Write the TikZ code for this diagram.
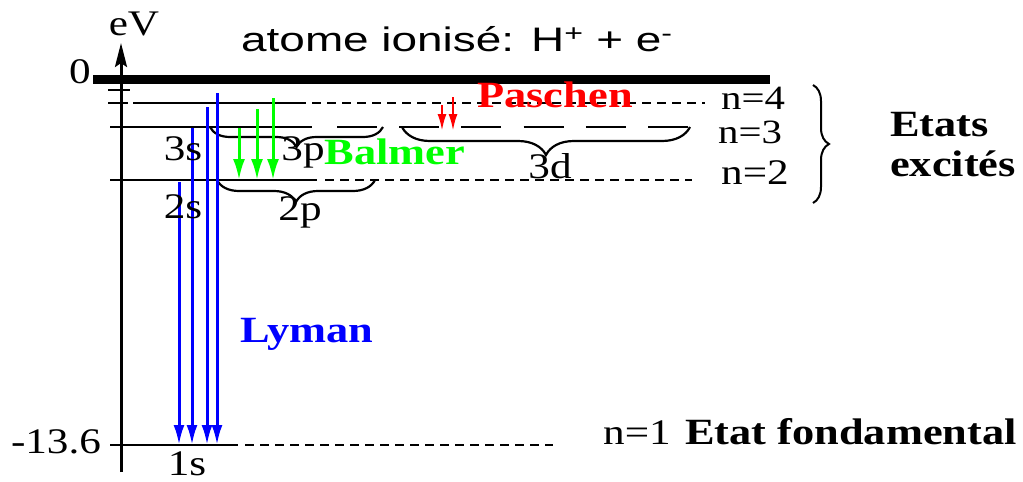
\documentclass[tikz,border=0pt]{standalone}
\usepackage{fontspec}
\setmainfont{Liberation Serif}[FakeStretch=1.2]
\newfontfamily\titlefont{Liberation Sans}[FakeStretch=1.35]
\usetikzlibrary{arrows.meta,decorations.pathreplacing}
\definecolor{lyblue}{RGB}{0,0,255}
\definecolor{bagreen}{RGB}{0,255,0}
\definecolor{pared}{RGB}{255,0,0}
\begin{document}
\begin{tikzpicture}[x=1pt,y=-1pt,
  lvl/.style={line width=2pt},
  shortdash/.style={line width=2pt, dash pattern=on 9pt off 6pt},
  longdash/.style={line width=2pt, dash pattern=on 40pt off 22.2pt},
  brc/.style={line width=2.2pt, decorate, decoration={brace, amplitude=#1}},
  axisline/.style={line width=3pt, -{Stealth[length=24pt,width=12pt,inset=4pt]}},
  lyarrow/.style={lyblue, line width=3pt, -{Latex[length=20pt,width=11pt]}},
  baarrow/.style={bagreen, line width=3pt, -{Latex[length=21pt,width=12pt]}},
  paarrow/.style={pared, line width=2.4pt, -{Latex[length=17pt,width=9pt]}},
  txt/.style={font=\fontsize{36}{42}\selectfont, inner sep=0pt, anchor=base},
  ntxt/.style={font=\fontsize{34}{40}\selectfont, inner sep=0pt, anchor=base},
  btxt/.style={font=\bfseries\fontsize{37}{44}\selectfont, inner sep=0pt, anchor=base},
]
\useasboundingbox (0,0) rectangle (1023,482);

% axis
\coordinate (axb) at (121,472);
\coordinate (axt) at (121,43);
\draw[axisline] (axb) -- (axt);
\node[txt] (ev) at (134,35) {eV};
\node[txt] (zero) at (80,83) {0};
\node[txt] (m136) at (56,453) {-13.6};

% ionisation level
\coordinate (ionl) at (93,79);
\coordinate (ionr) at (770,79);
\draw[line width=9pt] (ionl) -- (ionr);
\node[inner sep=0pt, anchor=base west, font=\titlefont\fontsize{34}{40}\selectfont] (title) at (241,51)
  {atome ionisé: H\textsuperscript{+} + e\textsuperscript{-}};

% n=5 tick
\coordinate (t5a) at (108,90); \coordinate (t5b) at (130,90);
\draw[lvl] (t5a) -- (t5b);
% n=4
\coordinate (t4a) at (108,103); \coordinate (t4b) at (128,103);
\coordinate (n4a) at (133,103); \coordinate (n4b) at (297,103); \coordinate (n4c) at (705,103);
\draw[lvl] (t4a) -- (t4b);
\draw[lvl] (n4a) -- (n4b);
\draw[shortdash] (n4b) -- (n4c);
% n=3
\coordinate (n3a) at (110,127); \coordinate (n3b) at (312,127);
\coordinate (n3c) at (337,127); \coordinate (n3d) at (688,127);
\draw[lvl] (n3a) -- (n3b);
\draw[longdash] (n3c) -- (n3d);
% n=2
\coordinate (n2a) at (110,180); \coordinate (n2b) at (317,180);
\coordinate (n2c) at (325,180); \coordinate (n2d) at (692,180);
\draw[lvl] (n2a) -- (n2b);
\draw[shortdash] (n2c) -- (n2d);
% n=1
\coordinate (n1a) at (110,445); \coordinate (n1b) at (238,445);
\coordinate (n1c) at (245,445); \coordinate (n1d) at (553,445);
\draw[lvl] (n1a) -- (n1b);
\draw[shortdash] (n1c) -- (n1d);

% braces
\coordinate (b3pl) at (210,127); \coordinate (b3pr) at (383,127);
\draw[brc=20] (b3pr) -- (b3pl);
\coordinate (b2pl) at (217,180); \coordinate (b2pr) at (375,180);
\draw[brc=22] (b2pr) -- (b2pl);
\coordinate (b3dl) at (402,127); \coordinate (b3dr) at (690,127);
\draw[brc=28] (b3dr) -- (b3dl);
\coordinate (bigt) at (813,85); \coordinate (bigb) at (813,203);
\draw[line width=2pt, decorate, decoration={brace, amplitude=16}] (bigt) -- (bigb);

% Lyman
\coordinate (ly2s) at (179,182); \coordinate (ly2e) at (179,445);
\coordinate (ly3s) at (192,128); \coordinate (ly3e) at (192,445);
\coordinate (ly4s) at (207,107); \coordinate (ly4e) at (207,445);
\coordinate (ly5s) at (217,93);  \coordinate (ly5e) at (217,445);
\draw[lyarrow] (ly2s) -- (ly2e);
\draw[lyarrow] (ly3s) -- (ly3e);
\draw[lyarrow] (ly4s) -- (ly4e);
\draw[lyarrow] (ly5s) -- (ly5e);
% Balmer
\coordinate (ba3s) at (239,128); \coordinate (ba3e) at (239,180);
\coordinate (ba4s) at (257,109); \coordinate (ba4e) at (257,180);
\coordinate (ba5s) at (273,98);  \coordinate (ba5e) at (273,180);
\draw[baarrow] (ba3s) -- (ba3e);
\draw[baarrow] (ba4s) -- (ba4e);
\draw[baarrow] (ba5s) -- (ba5e);
% Paschen
\coordinate (pa4s) at (442,105); \coordinate (pa4e) at (442,131);
\coordinate (pa5s) at (453,97);  \coordinate (pa5e) at (453,131);
\draw[paarrow] (pa4s) -- (pa4e);
\draw[paarrow] (pa5s) -- (pa5e);

% orbital labels
\node[txt] (s3) at (183,160) {3s};
\node[txt] (s2) at (183,218) {2s};
\node[txt] (s1) at (187,475) {1s};
\node[txt] (p3) at (303,160) {3p};
\node[txt] (p2) at (300,220) {2p};
\node[txt] (d3) at (550,178) {3d};

% series labels
\node[btxt, text=bagreen] (balmer) at (395,164) {Balmer};
\node[btxt, text=pared] (paschen) at (555,107) {Paschen};
\node[btxt, text=lyblue] (lyman) at (307,342) {Lyman};

% level labels
\node[ntxt] (ln4) at (753,109) {n=4};
\node[ntxt] (ln3) at (750,143) {n=3};
\node[txt] (ln2) at (755,184) {n=2};
\node[txt] (ln1) at (637,444) {n=1};
\node[btxt] (fond) at (851,444) {Etat fondamental};
\node[btxt, anchor=base west] (etats) at (890,136) {Etats};
\node[btxt, anchor=base west] (excites) at (890,176) {excités};
\end{tikzpicture}
\end{document}
